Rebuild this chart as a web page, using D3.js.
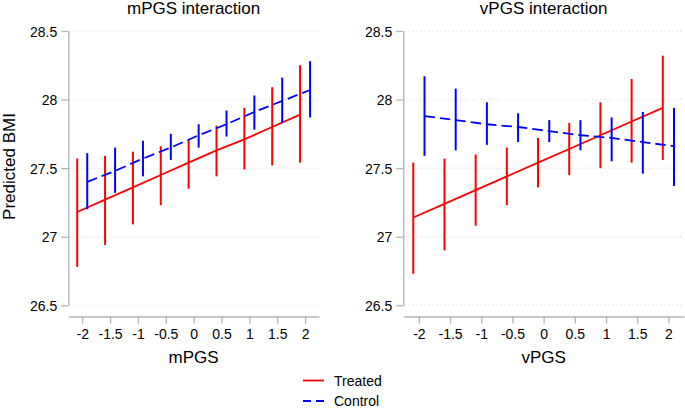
<!DOCTYPE html>
<html>
<head>
<meta charset="utf-8">
<script src="https://cdn.jsdelivr.net/npm/d3@7"></script>
<style>
  body { margin: 0; background: #fff; }
  svg { display: block; font-family: "Liberation Sans", Arial, sans-serif; }
</style>
</head>
<body>
<svg id="chart" width="685" height="408"></svg>
<script>
// ---------- data ----------
const xValues = [-2, -1.5, -1, -0.5, 0, 0.5, 1, 1.5, 2];
const xTickLabels = ["-2", "-1.5", "-1", "-0.5", "0", "0.5", "1", "1.5", "2"];
const yTicks = [26.5, 27, 27.5, 28, 28.5];
const yTickLabels = ["26.5", "27", "27.5", "28", "28.5"];
const panelTitles = ["mPGS interaction", "vPGS interaction"];
const xAxisTitles = ["mPGS", "vPGS"];
const yAxisTitle = "Predicted BMI";
const seriesNames = ["Treated", "Control"];

// mPGS panel
const mTreatedFit = [27.18, 27.27, 27.36, 27.45, 27.54, 27.63, 27.71, 27.80, 27.89];
const mTreatedLo  = [26.78, 26.94, 27.09, 27.23, 27.35, 27.44, 27.49, 27.52, 27.54];
const mTreatedHi  = [27.57, 27.59, 27.62, 27.66, 27.71, 27.81, 27.94, 28.09, 28.25];
const mControlFit = [27.40, 27.48, 27.57, 27.65, 27.74, 27.82, 27.91, 27.99, 28.07];
const mControlLo  = [27.20, 27.32, 27.44, 27.56, 27.65, 27.73, 27.78, 27.83, 27.87];
const mControlHi  = [27.61, 27.65, 27.70, 27.75, 27.82, 27.92, 28.03, 28.16, 28.28];

// vPGS panel
const vTreatedFit = [27.14, 27.24, 27.34, 27.44, 27.54, 27.64, 27.74, 27.84, 27.94];
const vTreatedLo  = [26.73, 26.90, 27.08, 27.23, 27.36, 27.45, 27.50, 27.54, 27.56];
const vTreatedHi  = [27.54, 27.57, 27.60, 27.65, 27.72, 27.83, 27.98, 28.15, 28.32];
const vControlFit = [27.88, 27.85, 27.82, 27.80, 27.77, 27.74, 27.72, 27.69, 27.66];
const vControlLo  = [27.59, 27.63, 27.67, 27.69, 27.69, 27.63, 27.55, 27.46, 27.37];
const vControlHi  = [28.17, 28.08, 27.98, 27.90, 27.85, 27.85, 27.87, 27.91, 27.94];

// ---------- layout / style ----------
const svg = d3.select("#chart");
const colors = { Treated: "#ff0000", Control: "#0000ff" };
const dashes = { Treated: null, Control: "10.5,5" };
const offsets = { Treated: -0.09, Control: 0.09 };
const axisColor = "#b4b4b4";
const gridColor = "#cfcfcf";
const tickFont = "14px";
const titleFont = "17px";

const y = d3.scaleLinear().domain([26.5, 28.5]).range([305.3, 31]);

const panels = [
  { left: 68.3, right: 319, title: panelTitles[0], xTitle: xAxisTitles[0],
    series: [
      { name: "Treated", fit: mTreatedFit, lo: mTreatedLo, hi: mTreatedHi },
      { name: "Control", fit: mControlFit, lo: mControlLo, hi: mControlHi } ] },
  { left: 403.3, right: 684, title: panelTitles[1], xTitle: xAxisTitles[1],
    series: [
      { name: "Treated", fit: vTreatedFit, lo: vTreatedLo, hi: vTreatedHi },
      { name: "Control", fit: vControlFit, lo: vControlLo, hi: vControlHi } ] }
];

panels.forEach(p => {
  const x = d3.scaleLinear().domain([-2.25, 2.25]).range([p.left, p.right]);
  const g = svg.append("g");

  // gridlines
  g.selectAll("line.grid").data(yTicks).join("line")
    .attr("x1", p.left + 1)
    .attr("x2", p.right)
    .attr("y1", d => y(d)).attr("y2", d => y(d))
    .attr("stroke", gridColor).attr("stroke-width", 1)
    .attr("stroke-dasharray", "1,3");

  // y axis
  const yAxis = d3.axisLeft(y).tickValues(yTicks)
    .tickFormat((d, i) => yTickLabels[i]).tickSize(7).tickSizeOuter(0).tickPadding(4);
  const ya = g.append("g").attr("transform", `translate(${p.left},0)`).call(yAxis);
  ya.select(".domain").attr("stroke", axisColor).attr("stroke-width", 1.3);
  ya.selectAll(".tick line").attr("stroke", axisColor).attr("stroke-width", 1.3);
  ya.selectAll(".tick text").attr("font-size", tickFont).attr("fill", "#000")
    .attr("font-family", "Liberation Sans, Arial, sans-serif").attr("dy", "0.36em");

  // x axis
  const xAxis = d3.axisBottom(x).tickValues(xValues)
    .tickFormat((d, i) => xTickLabels[i]).tickSize(7).tickSizeOuter(0).tickPadding(6);
  const xa = g.append("g").attr("transform", `translate(0,316.5)`).call(xAxis);
  xa.select(".domain").attr("stroke", axisColor).attr("stroke-width", 1.3);
  xa.selectAll(".tick line").attr("stroke", axisColor).attr("stroke-width", 1.3);
  xa.selectAll(".tick text").attr("font-size", tickFont).attr("fill", "#000")
    .attr("font-family", "Liberation Sans, Arial, sans-serif");

  // series
  p.series.forEach(s => {
    const pts = xValues.map((v, i) => ({ x: v + offsets[s.name], fit: s.fit[i], lo: s.lo[i], hi: s.hi[i] }));
    g.selectAll(null).data(pts).join("line")
      .attr("x1", d => x(d.x)).attr("x2", d => x(d.x))
      .attr("y1", d => y(d.lo)).attr("y2", d => y(d.hi))
      .attr("stroke", colors[s.name]).attr("stroke-width", 2);
    g.append("path").datum(pts)
      .attr("d", d3.line().x(d => x(d.x)).y(d => y(d.fit)))
      .attr("fill", "none").attr("stroke", colors[s.name]).attr("stroke-width", 1.8)
      .attr("stroke-dasharray", dashes[s.name]);
  });

  // titles
  g.append("text").attr("x", (x(-2) + x(2)) / 2).attr("y", 14)
    .attr("text-anchor", "middle").attr("font-size", titleFont).text(p.title);
  g.append("text").attr("x", (x(-2) + x(2)) / 2).attr("y", 362.5)
    .attr("text-anchor", "middle").attr("font-size", titleFont).text(p.xTitle);
});

// y axis title
svg.append("text").attr("transform", "translate(15,166.5) rotate(-90)")
  .attr("text-anchor", "middle").attr("font-size", titleFont).text(yAxisTitle);

// legend
const legend = svg.append("g");
seriesNames.forEach((name, i) => {
  const ly = 380.5 + i * 20.5;
  legend.append("line").attr("x1", 303).attr("x2", 324).attr("y1", ly).attr("y2", ly)
    .attr("stroke", colors[name]).attr("stroke-width", 1.8)
    .attr("stroke-dasharray", name === "Control" ? "8,5" : null);
  legend.append("text").attr("x", 334).attr("y", ly + 5).attr("font-size", tickFont).text(name);
});
</script>
</body>
</html>
